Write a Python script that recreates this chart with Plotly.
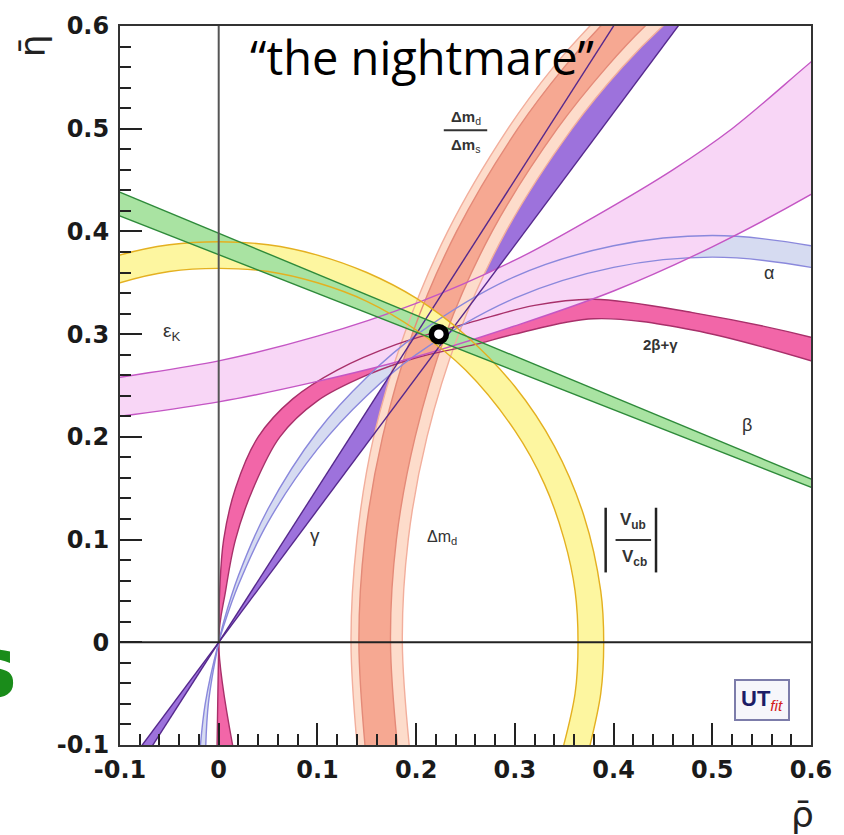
import plotly.graph_objects as go

# ---------------- band boundaries (rho, eta) ----------------
# epsilon_K (hyperbola-like band)
eps_hi_x = [-0.15, -0.1, 0.0, 0.1, 0.2, 0.3, 0.38, 0.46, 0.52, 0.6, 0.65]
eps_hi_y = [0.25, 0.258, 0.274, 0.298, 0.33, 0.372, 0.414, 0.46, 0.5, 0.565, 0.605]
eps_lo_x = [-0.15, -0.1, 0.0, 0.1, 0.2, 0.3, 0.4, 0.5, 0.6, 0.65]
eps_lo_y = [0.214, 0.22, 0.234, 0.254, 0.278, 0.308, 0.342, 0.385, 0.436, 0.465]

# alpha
alpha_hi_x = [-0.0137, -0.0105, 0.0, 0.005, 0.02, 0.05, 0.1, 0.15, 0.2, 0.3, 0.4, 0.5, 0.6, 0.65]
alpha_hi_y = [-0.12, -0.06, 0.0, 0.0198, 0.065, 0.13, 0.205, 0.258, 0.299, 0.356, 0.386, 0.396, 0.386, 0.374]
alpha_lo_x = [-0.0202, -0.0137, 0.0, 0.005, 0.02, 0.05, 0.1, 0.15, 0.2, 0.3, 0.4, 0.5, 0.6, 0.65]
alpha_lo_y = [-0.12, -0.06, 0.0, 0.016, 0.056, 0.117, 0.188, 0.24, 0.28, 0.335, 0.365, 0.375, 0.365, 0.353]

# 2beta+gamma
tbg_hi_x = [-0.002, 0.0, 0.001, 0.005, 0.017, 0.04, 0.075, 0.12, 0.18, 0.25, 0.32, 0.38, 0.48, 0.6, 0.65]
tbg_hi_y = [-0.12, 0.0, 0.05, 0.1, 0.15, 0.2, 0.237, 0.265, 0.29, 0.31, 0.328, 0.334, 0.321, 0.297, 0.283]
tbg_lo_x = [0.018, 0.0, 0.007, 0.017, 0.035, 0.062, 0.1, 0.15, 0.2, 0.26, 0.3, 0.38, 0.48, 0.6, 0.65]
tbg_lo_y = [-0.12, 0.0, 0.05, 0.1, 0.15, 0.2, 0.235, 0.26, 0.277, 0.29, 0.3, 0.315, 0.304, 0.274, 0.258]

# gamma (straight band through the origin)
gam_r_x = [-0.093, 0.512]
gam_r_y = [-0.12, 0.66]
gam_l_x = [-0.080, 0.440]
gam_l_y = [-0.12, 0.66]

# Delta m_d (circle-like bands around (1,0)); light = outer region, dark = inner region
dmd_y = [-0.12, 0.0, 0.1, 0.2, 0.3, 0.4, 0.5, 0.56, 0.6, 0.66]
dmd_light_l_x = [0.142, 0.134, 0.140, 0.157, 0.188, 0.232, 0.293, 0.339, 0.376, 0.439]
dmd_light_r_x = [0.195, 0.186, 0.192, 0.211, 0.243, 0.291, 0.358, 0.409, 0.450, 0.524]
dmd_dark_l_x = [0.150, 0.142, 0.148, 0.166, 0.196, 0.241, 0.303, 0.350, 0.387, 0.452]
dmd_dark_r_x = [0.183, 0.174, 0.180, 0.199, 0.230, 0.277, 0.343, 0.393, 0.432, 0.503]

# |Vub/Vcb| (circle-like band around the origin)
vub_out_x = [-0.15, -0.1, -0.05, 0.0, 0.05, 0.1, 0.15, 0.2, 0.25, 0.3, 0.34, 0.37, 0.387, 0.39, 0.387, 0.371]
vub_out_y = [0.36, 0.377, 0.387, 0.39, 0.387, 0.377, 0.36, 0.335, 0.299, 0.249, 0.191, 0.123, 0.05, 0.0, -0.05, -0.12]
vub_in_x = [-0.15, -0.1, -0.05, 0.0, 0.05, 0.1, 0.15, 0.2, 0.25, 0.3, 0.33, 0.35, 0.361, 0.364, 0.361, 0.344]
vub_in_y = [0.332, 0.35, 0.361, 0.364, 0.361, 0.35, 0.332, 0.304, 0.265, 0.206, 0.154, 0.1, 0.05, 0.0, -0.05, -0.12]

# beta (straight band from (1,0))
beta_hi_x = [-0.15, 0.65]
beta_hi_y = [0.458, 0.139]
beta_lo_x = [-0.15, 0.65]
beta_lo_y = [0.434, 0.132]

# best fit point
best_rho = [0.223]
best_eta = [0.300]

# axes
rho_ticks = [-0.1, 0.0, 0.1, 0.2, 0.3, 0.4, 0.5, 0.6]
rho_tick_labels = ["-0.1", "0", "0.1", "0.2", "0.3", "0.4", "0.5", "0.6"]
eta_ticks = [-0.1, 0.0, 0.1, 0.2, 0.3, 0.4, 0.5, 0.6]
eta_tick_labels = ["-0.1", "0", "0.1", "0.2", "0.3", "0.4", "0.5", "0.6"]

fig = go.Figure()


def add_fill(xa, ya, xb, yb, color, shape="spline"):
    fig.add_trace(go.Scatter(x=xa, y=ya, mode="lines", line=dict(width=0, shape=shape),
                             hoverinfo="skip", showlegend=False))
    fig.add_trace(go.Scatter(x=xb, y=yb, mode="lines", fill="tonexty", fillcolor=color,
                             line=dict(width=0, shape=shape), hoverinfo="skip", showlegend=False))


def add_edges(xa, ya, xb, yb, color, width=1.4, shape="spline"):
    fig.add_trace(go.Scatter(x=list(xa) + [None] + list(xb), y=list(ya) + [None] + list(yb),
                             mode="lines", connectgaps=False,
                             line=dict(color=color, width=width, shape=shape),
                             hoverinfo="skip", showlegend=False))


C_TBG, E_TBG = "#f266a8", "#a8306a"
C_ALP, E_ALP = "#d6dbf1", "#8a88dc"
C_GAM, E_GAM = "#9d72dc", "#55288c"
C_EPS, E_EPS = "#f8d6f6", "#c456c4"
C_DL, E_DL = "#fddccb", "#f2ae9c"
C_DD, E_DD = "#f6a892", "#e48a78"
C_VUB, E_VUB = "#fdf6a0", "#e4b020"
C_BET, E_BET = "#a9e3a2", "#2e8a3a"

# fills (bottom to top)
add_fill(tbg_hi_x, tbg_hi_y, tbg_lo_x, tbg_lo_y, C_TBG)
add_fill(alpha_hi_x, alpha_hi_y, alpha_lo_x, alpha_lo_y, C_ALP)
add_fill(gam_r_x, gam_r_y, gam_l_x, gam_l_y, C_GAM, shape="linear")
add_fill(eps_hi_x, eps_hi_y, eps_lo_x, eps_lo_y, C_EPS)
add_fill(dmd_light_l_x, dmd_y, dmd_light_r_x, dmd_y, C_DL)
add_fill(dmd_dark_l_x, dmd_y, dmd_dark_r_x, dmd_y, C_DD)
add_fill(vub_out_x, vub_out_y, vub_in_x, vub_in_y, C_VUB)
add_fill(beta_hi_x, beta_hi_y, beta_lo_x, beta_lo_y, C_BET, shape="linear")

# contours on top
add_edges(dmd_light_l_x, dmd_y, dmd_light_r_x, dmd_y, E_DL)
add_edges(dmd_dark_l_x, dmd_y, dmd_dark_r_x, dmd_y, E_DD)
add_edges(tbg_hi_x, tbg_hi_y, tbg_lo_x, tbg_lo_y, E_TBG)
add_edges(alpha_hi_x, alpha_hi_y, alpha_lo_x, alpha_lo_y, E_ALP)
add_edges(eps_hi_x, eps_hi_y, eps_lo_x, eps_lo_y, E_EPS)
add_edges(gam_r_x, gam_r_y, gam_l_x, gam_l_y, E_GAM, shape="linear")
add_edges(vub_out_x, vub_out_y, vub_in_x, vub_in_y, E_VUB)
add_edges(beta_hi_x, beta_hi_y, beta_lo_x, beta_lo_y, E_BET, shape="linear")

# best fit
fig.add_trace(go.Scatter(x=best_rho, y=best_eta, mode="markers",
                         marker=dict(symbol="circle", size=15, color="white",
                                     line=dict(color="black", width=5.5)),
                         hoverinfo="skip", showlegend=False))

tickfont = dict(family="DejaVu Sans", size=24, color="#1a1a1a", weight="bold")
axis_common = dict(range=[-0.1, 0.6], ticks="inside", ticklen=22, tickwidth=2, tickcolor="#222",
                   showline=True, linecolor="#333", linewidth=2, mirror=True, showgrid=False,
                   zeroline=False, layer="above traces", tickfont=tickfont,
                   minor=dict(ticks="inside", ticklen=11, tickwidth=2, tickcolor="#222",
                              dtick=0.02, tick0=0, showgrid=False))
fig.update_xaxes(tickvals=rho_ticks, ticktext=rho_tick_labels, ticklabelstandoff=2, **axis_common)
fig.update_yaxes(tickvals=eta_ticks, ticktext=eta_tick_labels, ticklabelstandoff=4, **axis_common)

lab = dict(family="Liberation Sans", color="#333")
annotations = [
    dict(text="ε<sub>K</sub>", x=-0.048, y=0.302, font=dict(size=19, **lab)),
    dict(text="α", x=0.557, y=0.36, font=dict(size=18, **lab)),
    dict(text="<b>2β+γ</b>", x=0.448, y=0.29, font=dict(size=15, **lab)),
    dict(text="β", x=0.535, y=0.212, font=dict(size=18, **lab)),
    dict(text="γ", x=0.098, y=0.104, font=dict(size=19, **lab)),
    dict(text="Δm<sub>d</sub>", x=0.226, y=0.102, font=dict(size=16, **lab)),
    dict(text="<b>Δm</b><sub>d</sub>", x=0.25, y=0.511, font=dict(size=15, **lab)),
    dict(text="<b>Δm</b><sub>s</sub>", x=0.25, y=0.484, font=dict(size=15, **lab)),
    dict(text="<b>V</b><sub><b>ub</b></sub>", x=0.42, y=0.118, font=dict(size=17, **lab)),
    dict(text="<b>V</b><sub><b>cb</b></sub>", x=0.421, y=0.082, font=dict(size=17, **lab)),
    dict(text="<b>UT</b><sub><i><span style='color:#d42020'>fit</span></i></sub>",
         x=0.55, y=-0.056,
         font=dict(size=22, family="Liberation Sans", color="#1c1c66"),
         bordercolor="#7c7caa", borderwidth=2, bgcolor="#f6f6fb", borderpad=5),
]
for a in annotations:
    a.update(xref="x", yref="y", showarrow=False)

annotations += [
    dict(text="“the nightmare”", xref="paper", yref="paper", x=0.437, y=0.957,
         xanchor="center", yanchor="middle", showarrow=False,
         font=dict(family="Open Sans", size=47, color="black")),
    dict(text="ρ̄", xref="paper", yref="paper", x=1.007, y=-0.128, yanchor="bottom",
         showarrow=False, font=dict(family="DejaVu Sans", size=36, color="#222")),
    dict(text="η̄", xref="paper", yref="paper", x=-0.16, y=0.992, showarrow=False,
         textangle=-90, font=dict(family="DejaVu Sans", size=36, color="#222")),
    dict(text="<b>s</b>", xref="paper", yref="paper", x=-0.1457, y=0.036, xanchor="right",
         showarrow=False, font=dict(family="DejaVu Sans", size=86, color="#1a8c1a")),
]

shapes = [
    dict(type="line", xref="x", yref="y", x0=0, x1=0, y0=0, y1=0.6,
         line=dict(color="#555", width=2), layer="above"),
    dict(type="line", xref="x", yref="y", x0=-0.1, x1=0.6, y0=0, y1=0,
         line=dict(color="#222", width=2), layer="above"),
    # fraction bars / absolute-value bars of the labels
    dict(type="line", xref="x", yref="y", x0=0.228, x1=0.272, y0=0.4985, y1=0.4985,
         line=dict(color="#333", width=2), layer="above"),
    dict(type="line", xref="x", yref="y", x0=0.402, x1=0.438, y0=0.0995, y1=0.0995,
         line=dict(color="#333", width=2), layer="above"),
    dict(type="line", xref="x", yref="y", x0=0.392, x1=0.392, y0=0.068, y1=0.131,
         line=dict(color="#222", width=2.5), layer="above"),
    dict(type="line", xref="x", yref="y", x0=0.443, x1=0.443, y0=0.068, y1=0.131,
         line=dict(color="#222", width=2.5), layer="above"),
]

fig.update_layout(width=844, height=835, margin=dict(l=120, r=24, t=22, b=90),
                  paper_bgcolor="white", plot_bgcolor="white", showlegend=False,
                  annotations=annotations, shapes=shapes)

fig.write_html("out.html")
